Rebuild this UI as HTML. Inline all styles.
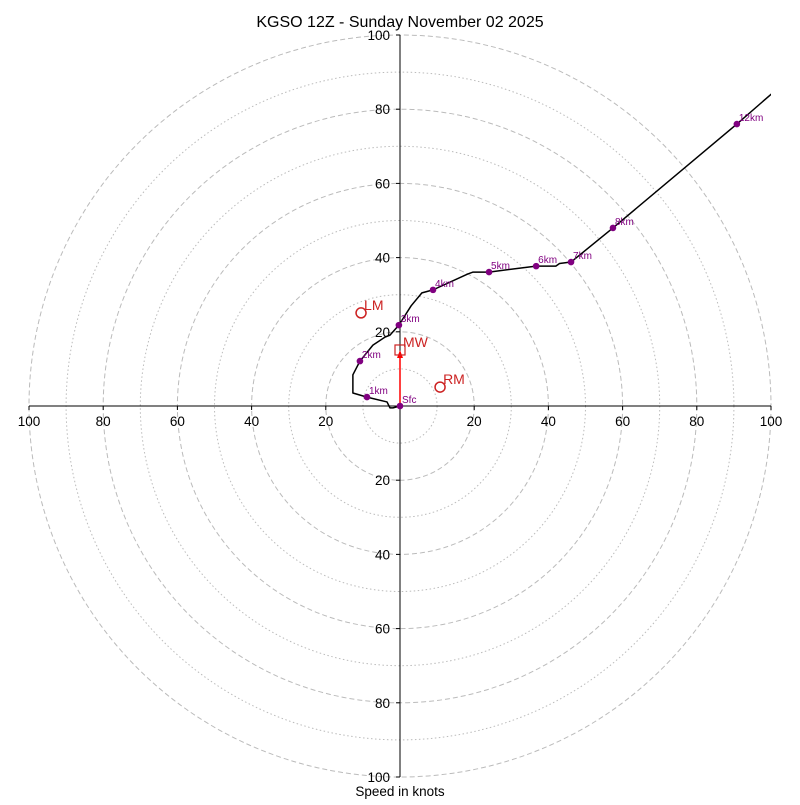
<!DOCTYPE html>
<html><head><meta charset="utf-8"><style>
body{margin:0;background:#fff}
svg{font-family:"Liberation Sans",sans-serif}
</style></head><body>
<svg id="c" width="800" height="800">
<text x="400" y="27" text-anchor="middle" font-size="16">KGSO 12Z - Sunday November 02 2025</text>
<text x="400" y="796" text-anchor="middle" font-size="13.5">Speed in knots</text>
<defs><clipPath id="cp"><rect x="29" y="35" width="742" height="742"/></clipPath></defs>
<g id="rings"></g><g id="axes"></g><g id="plot" clip-path="url(#cp)"></g><g id="marks"></g>
</svg>
<script>
const ringValues=[10,20,30,40,50,60,70,80,90,100];
const tickLabels=[20,40,60,80,100];
const traceU=[0,-1.9,-2.7,-3.5,-8.9,-12.7,-12.7,-10.8,-7.3,-4.0,-2.7,-0.3,3.0,5.9,8.9,18.3,19.7,24,36.7,42,43,46.1,57.4,90.8,110];
const traceV=[0,-0.5,-0.5,1.1,2.4,3.5,8.4,12.1,16.4,18.6,19.1,21.8,27.0,30.5,31.3,35.6,36.1,36.1,37.7,37.7,38.4,38.8,48.0,76.0,92.7];
const heightLabels=["Sfc","1km","2km","3km","4km","5km","6km","7km","8km","12km"];
const heightU=[0,-8.9,-10.8,-0.3,8.9,24,36.7,46.1,57.4,90.8];
const heightV=[0,2.4,12.1,21.8,31.3,36.1,37.7,38.8,48.0,76.0];
const motionNames=["LM","MW","RM"];
const motionU=[-10.5,0,10.8];
const motionV=[25.1,15.1,5.1];
const cx=400,cy=406,s=3.71;
const X=u=>cx+u*s, Y=v=>cy-v*s;
const NS="http://www.w3.org/2000/svg";
function mk(p,t,a){const e=document.createElementNS(NS,t);for(const k in a)e.setAttribute(k,a[k]);document.getElementById(p).appendChild(e);return e;}
ringValues.forEach(r=>{const e=mk('rings','circle',{cx:cx,cy:cy,r:r*s,fill:'none',stroke:'#bbb','stroke-width':1,'stroke-dasharray':r%20==0?'5,3':'1.5,2.5'});

});
let a=mk('axes','line',{x1:X(-100),y1:cy,x2:X(100),y2:cy,stroke:'#000'});


a=mk('axes','line',{x1:cx,y1:Y(100),x2:cx,y2:Y(-100),stroke:'#000'});


tickLabels.forEach(t=>{[-1,1].forEach(d=>{
 let e=mk('axes','text',{x:X(d*t),y:cy+20,'text-anchor':'middle','font-size':13.5});e.textContent=t;
 
 
 e=mk('axes','text',{x:cx-10,y:Y(d*t)+5,'text-anchor':'end','font-size':13.5});e.textContent=t;
 
 
 mk('axes','line',{x1:cx-4,y1:Y(d*t),x2:cx,y2:Y(d*t),stroke:'#000'});
 mk('axes','line',{x1:X(d*t),y1:cy,x2:X(d*t),y2:cy+4,stroke:'#000'});
});});
let pts=traceU.map((u,i)=>X(u)+','+Y(traceV[i])).join(' ');
let ln=mk('plot','polyline',{points:pts,fill:'none',stroke:'#000','stroke-width':1.5,'stroke-linejoin':'round'});


let ar=mk('marks','line',{x1:X(0),y1:Y(0),x2:X(motionU[1]),y2:Y(motionV[1])+4,stroke:'red','stroke-width':1.5});


mk('marks','polygon',{points:`${X(motionU[1])},${Y(motionV[1])} ${X(motionU[1])-3},${Y(motionV[1])+8} ${X(motionU[1])+3},${Y(motionV[1])+8}`,fill:'red'});
heightLabels.forEach((h,i)=>{
 let d=mk('marks','circle',{cx:X(heightU[i]),cy:Y(heightV[i]),r:3.3,fill:'purple'});
 
 
 let t=mk('marks','text',{x:X(heightU[i])+2,y:Y(heightV[i])-3,'font-size':10,fill:'purple'});t.textContent=h;
 
 
});
motionNames.forEach((m,i)=>{
 let e;
 if(m=="MW") e=mk('marks','rect',{x:X(motionU[i])-5,y:Y(motionV[i])-5,width:10,height:10,fill:'none',stroke:'#c22','stroke-width':1.2});
 else e=mk('marks','circle',{cx:X(motionU[i]),cy:Y(motionV[i]),r:5,fill:'none',stroke:'#c22','stroke-width':1.5});
 
 
 let t=mk('marks','text',{x:X(motionU[i])+3,y:Y(motionV[i])-3,'font-size':14,fill:'#c22'});t.textContent=m;
 
 
});
</script>
</body></html>
